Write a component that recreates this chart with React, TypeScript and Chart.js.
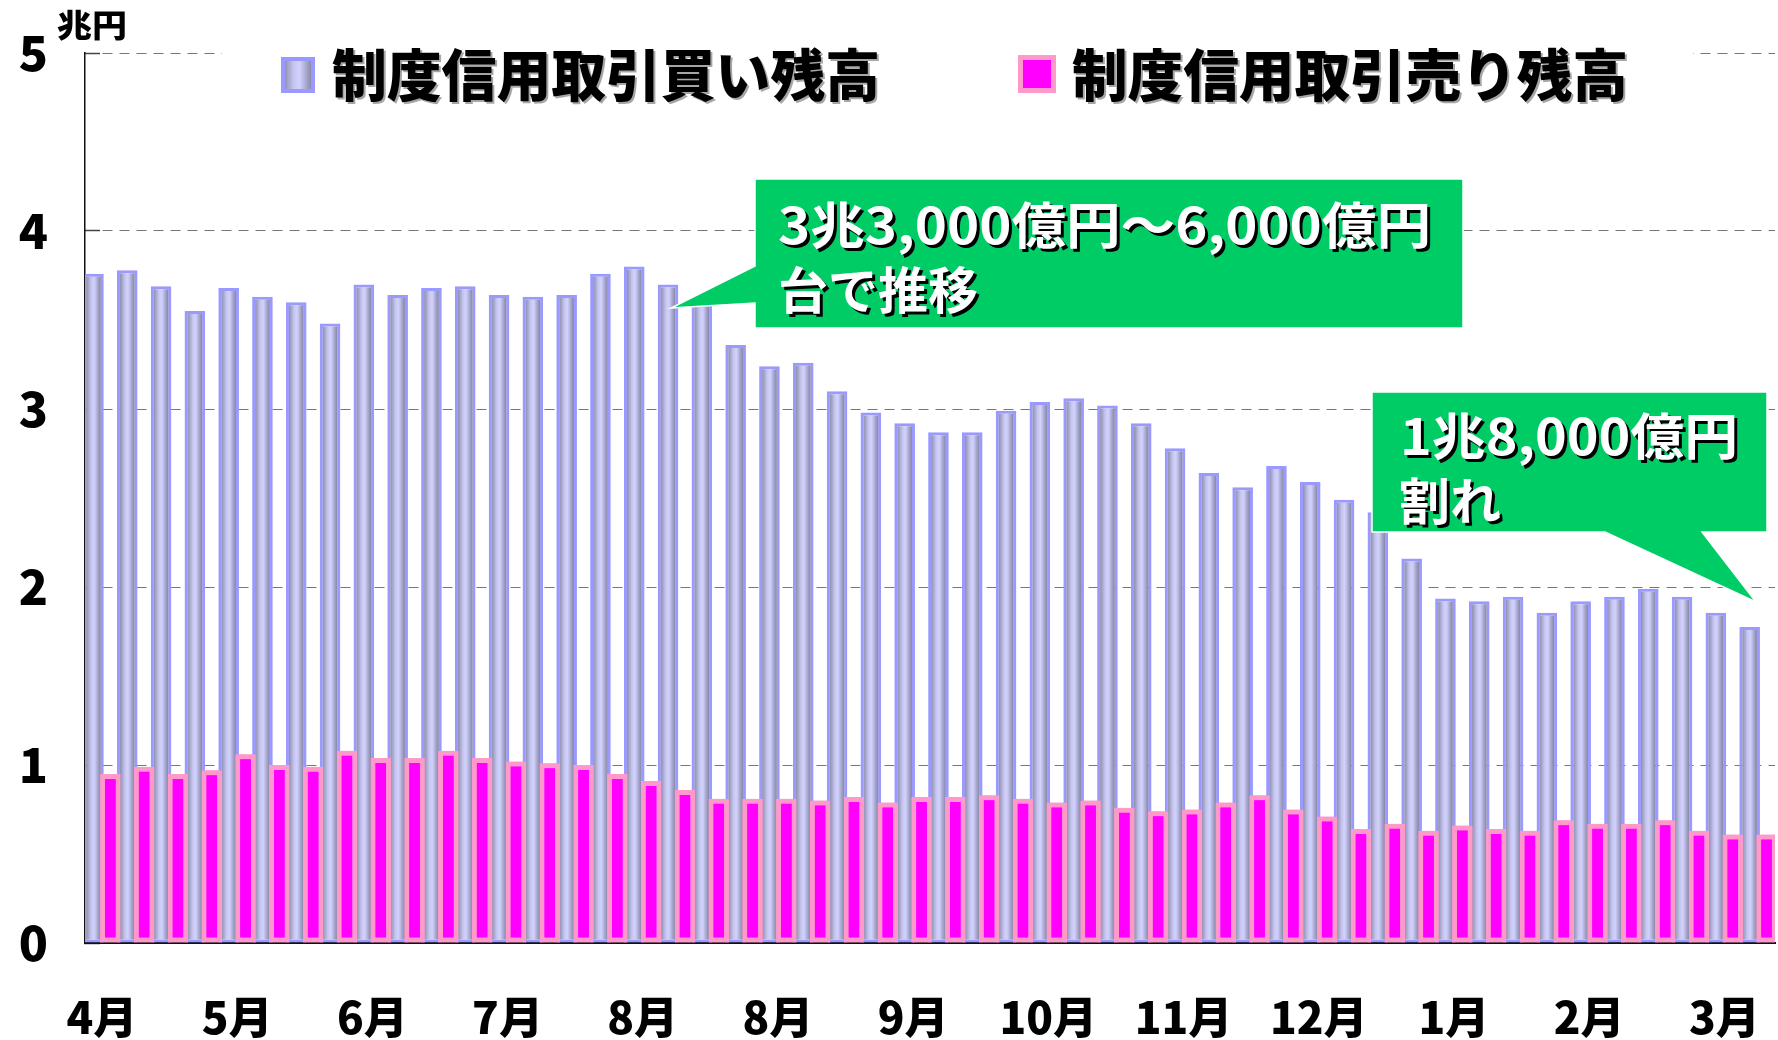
import React, { useEffect, useRef } from 'react';
import { Chart, registerables } from 'chart.js';

Chart.register(...registerables);

// ---- data ----
const monthLabels = ['4月', '5月', '6月', '7月', '8月', '8月', '9月', '10月', '11月', '12月', '1月', '2月', '3月'];
const weeksPerMonth = 4;
const buyBalance = [
  3.76, 3.78, 3.69, 3.55, 3.68, 3.63, 3.60, 3.48, 3.70, 3.64,
  3.68, 3.69, 3.64, 3.63, 3.64, 3.76, 3.80, 3.70, 3.59, 3.36,
  3.24, 3.26, 3.10, 2.98, 2.92, 2.87, 2.87, 2.99, 3.04, 3.06,
  3.02, 2.92, 2.78, 2.64, 2.56, 2.68, 2.59, 2.49, 2.42, 2.16,
  1.935, 1.92, 1.945, 1.855, 1.92, 1.945, 1.99, 1.945, 1.855, 1.775,
];
const sellBalance = [
  0.95, 0.99, 0.95, 0.97, 1.06, 1.00, 0.99, 1.08, 1.04, 1.04,
  1.08, 1.04, 1.02, 1.01, 1.00, 0.95, 0.91, 0.86, 0.81, 0.81,
  0.81, 0.80, 0.82, 0.79, 0.82, 0.82, 0.83, 0.81, 0.79, 0.80,
  0.76, 0.74, 0.75, 0.79, 0.83, 0.75, 0.71, 0.64, 0.67, 0.63,
  0.66, 0.64, 0.63, 0.69, 0.67, 0.67, 0.69, 0.63, 0.61, 0.61,
];
const seriesNames = ['制度信用取引買い残高', '制度信用取引売り残高'];
const unitLabel = '兆円';
const callout1Lines = ['3兆3,000億円～6,000億円', '台で推移'];
const callout2Lines = ['1兆8,000億円', '割れ'];
const yMin = 0;
const yMax = 5;
const yStep = 1;

const categories = buyBalance.map((_, i) =>
  i % weeksPerMonth === 0 ? monthLabels[i / weeksPerMonth] ?? '' : ''
);

// ---- style ----
const FONT = "'Noto Sans CJK JP', 'Noto Sans', sans-serif";
const BAR_PCT = 1.22;
const GREEN = '#00CC66';

function blueGradient(ctx: CanvasRenderingContext2D, x0: number, x1: number) {
  const g = ctx.createLinearGradient(x0, 0, x1, 0);
  g.addColorStop(0, '#8e8eae');
  g.addColorStop(0.35, '#c6c6f0');
  g.addColorStop(0.55, '#d2d2ff');
  g.addColorStop(1, '#8484a4');
  return g;
}

function fitText(
  ctx: CanvasRenderingContext2D,
  text: string,
  x: number,
  yc: number,
  font: string,
  targetW: number,
  color: string,
  shadowColor: string | null,
  shadowOff: number
) {
  ctx.save();
  ctx.font = font;
  ctx.textBaseline = 'middle';
  ctx.textAlign = 'left';
  const w = ctx.measureText(text).width;
  const sx = targetW / w;
  if (shadowColor) {
    ctx.shadowColor = shadowColor;
    ctx.shadowOffsetX = shadowOff;
    ctx.shadowOffsetY = shadowOff;
    ctx.shadowBlur = 0;
  }
  ctx.translate(x, yc);
  ctx.scale(sx, 1);
  ctx.fillStyle = color;
  ctx.fillText(text, 0, 0);
  ctx.restore();
}

// redraw the sell series on top of the buy series (Chart.js paints the left bar last)
const sellOnTopPlugin = {
  id: 'sellOnTop',
  afterDatasetsDraw(chart: any) {
    const meta = chart.getDatasetMeta(1);
    if (!meta || meta.hidden) return;
    const a = chart.chartArea;
    const ctx: CanvasRenderingContext2D = chart.ctx;
    ctx.save();
    ctx.beginPath();
    ctx.rect(a.left, a.top, a.right - a.left, a.bottom - a.top);
    ctx.clip();
    meta.controller.draw();
    ctx.restore();
  },
};

const overlayPlugin = {
  id: 'overlay',
  afterDraw(chart: any) {
    const ctx: CanvasRenderingContext2D = chart.ctx;

    // unit label
    fitText(ctx, unitLabel, 57, 25, `900 32px ${FONT}`, 70, '#000', null, 0);

    // legend background
    ctx.save();
    ctx.fillStyle = '#fff';
    ctx.fillRect(222, 38, 1471, 72);
    ctx.restore();

    // legend item 1
    ctx.save();
    ctx.fillStyle = blueGradient(ctx, 284, 312);
    ctx.fillRect(281, 57, 34, 36);
    ctx.strokeStyle = '#9999FF';
    ctx.lineWidth = 4;
    ctx.strokeRect(283, 59, 30, 32);
    ctx.restore();
    fitText(ctx, seriesNames[0], 332, 75, `900 56px ${FONT}`, 548, '#000', 'rgba(0,0,0,0.35)', 2);

    // legend item 2
    ctx.save();
    ctx.fillStyle = '#FF00FF';
    ctx.fillRect(1018, 55, 38, 38);
    ctx.strokeStyle = '#FF99CC';
    ctx.lineWidth = 5;
    ctx.strokeRect(1020.5, 57.5, 33, 33);
    ctx.restore();
    fitText(ctx, seriesNames[1], 1072, 75, `900 56px ${FONT}`, 556, '#000', 'rgba(0,0,0,0.35)', 2);

    // callout 1
    ctx.save();
    ctx.beginPath();
    ctx.moveTo(755, 179);
    ctx.lineTo(1463, 179);
    ctx.lineTo(1463, 328);
    ctx.lineTo(755, 328);
    ctx.lineTo(755, 303);
    ctx.lineTo(671, 308);
    ctx.lineTo(755, 266);
    ctx.closePath();
    ctx.fillStyle = GREEN;
    ctx.fill();
    ctx.strokeStyle = '#fff';
    ctx.lineWidth = 1.5;
    ctx.stroke();
    ctx.restore();
    fitText(ctx, callout1Lines[0], 778, 225, `bold 50px ${FONT}`, 653, '#fff', '#000', 3);
    fitText(ctx, callout1Lines[1], 778, 290, `bold 50px ${FONT}`, 200, '#fff', '#000', 3);

    // callout 2
    ctx.save();
    ctx.beginPath();
    ctx.moveTo(1372, 392);
    ctx.lineTo(1767, 392);
    ctx.lineTo(1767, 532);
    ctx.lineTo(1702, 532);
    ctx.lineTo(1756, 602);
    ctx.lineTo(1605, 532);
    ctx.lineTo(1372, 532);
    ctx.closePath();
    ctx.fillStyle = GREEN;
    ctx.fill();
    ctx.strokeStyle = '#fff';
    ctx.lineWidth = 1.5;
    ctx.stroke();
    ctx.restore();
    fitText(ctx, callout2Lines[0], 1400, 436, `bold 50px ${FONT}`, 338, '#fff', '#000', 3);
    fitText(ctx, callout2Lines[1], 1399, 501, `bold 50px ${FONT}`, 102, '#fff', '#000', 3);
  },
};

const zeroPad = (s: any) => {
  s.paddingLeft = 0;
  s.paddingRight = 0;
  s.paddingTop = 0;
  s.paddingBottom = 0;
};

export default function App() {
  const ref = useRef<HTMLCanvasElement | null>(null);

  useEffect(() => {
    document.body.style.margin = '0';
    const canvas = ref.current;
    if (!canvas) return;
    Chart.defaults.font.family = FONT;

    const chart = new Chart(canvas, {
      type: 'bar',
      data: {
        labels: categories,
        datasets: [
          {
            label: seriesNames[0],
            data: buyBalance,
            backgroundColor: (c: any) => {
              const ch = c.chart;
              const area = ch.chartArea;
              if (!area || c.dataIndex === undefined) return '#ccccff';
              const n = categories.length;
              const catW = (area.right - area.left) / n;
              const slot = catW / 2;
              const w = slot * BAR_PCT;
              const cx = area.left + catW * c.dataIndex + slot / 2;
              return blueGradient(ch.ctx, cx - w / 2 + 3, cx + w / 2 - 3);
            },
            borderColor: '#9999FF',
            borderWidth: 3,
            borderSkipped: false,
            categoryPercentage: 1,
            barPercentage: BAR_PCT,
          },
          {
            label: seriesNames[1],
            data: sellBalance,
            backgroundColor: '#FF00FF',
            borderColor: '#FF99CC',
            borderWidth: 5,
            borderSkipped: false,
            categoryPercentage: 1,
            barPercentage: BAR_PCT,
          },
        ],
      },
      options: {
        animation: false,
        responsive: false,
        maintainAspectRatio: false,
        layout: { padding: { top: 53, right: 3, left: 0, bottom: 0 } },
        plugins: {
          legend: { display: false },
          tooltip: { enabled: false },
        },
        scales: {
          x: {
            offset: true,
            afterFit: (s: any) => {
              s.height = 97;
              zeroPad(s);
            },
            grid: {
              offset: true,
              drawOnChartArea: false,
              drawTicks: true,
              tickLength: -16,
              color: (c: any) => (c.index % weeksPerMonth === 0 ? '#222' : 'rgba(0,0,0,0)'),
              tickColor: (c: any) => (c.index % weeksPerMonth === 0 ? '#222' : 'rgba(0,0,0,0)'),
              tickWidth: 1,
            },
            border: { display: true, color: '#111', width: 2 },
            ticks: {
              autoSkip: false,
              maxRotation: 0,
              minRotation: 0,
              padding: 64,
              color: '#000',
              font: { size: 44, weight: '900', family: FONT },
              callback: (_v: any, i: number) => categories[i],
            },
          },
          y: {
            min: yMin,
            max: yMax,
            afterFit: (s: any) => {
              s.width = 85;
              zeroPad(s);
            },
            grid: {
              color: '#777',
              lineWidth: 1,
              tickLength: -15,
              tickColor: '#444',
              tickWidth: 1.5,
              tickBorderDash: [],
            },
            border: { display: true, color: '#111', width: 1.5, dash: [10, 7] },
            ticks: {
              stepSize: yStep,
              padding: 52,
              color: '#000',
              font: { size: 48, weight: '900', family: FONT },
            },
          },
        },
      },
      plugins: [sellOnTopPlugin, overlayPlugin],
    } as any);

    return () => chart.destroy();
  }, []);

  return <canvas ref={ref} width={1778} height={1040} style={{ display: 'block' }} />;
}
